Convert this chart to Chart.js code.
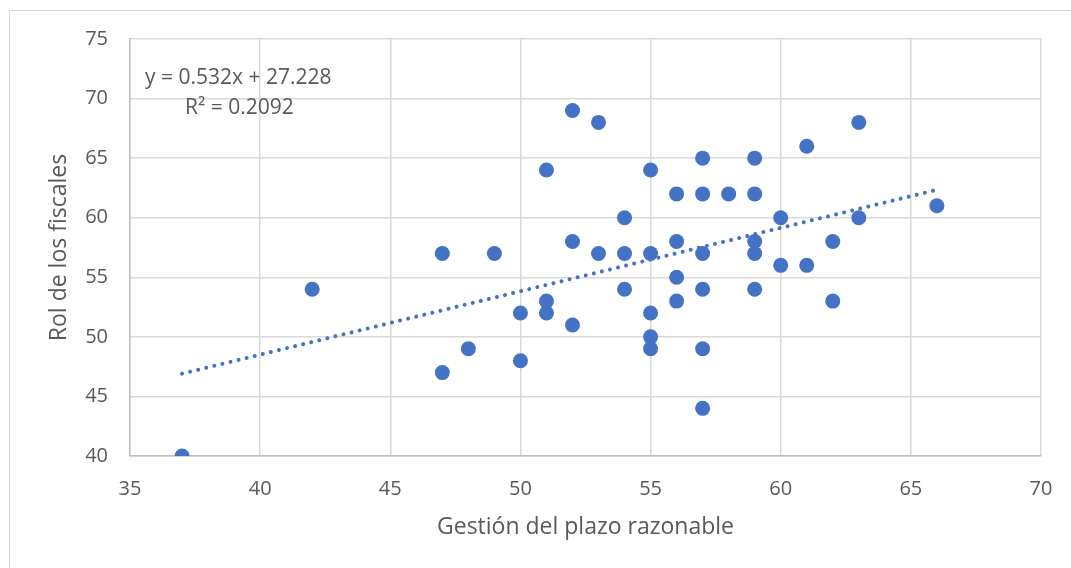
<!DOCTYPE html>
<html>
<head>
<meta charset="utf-8">
<script src="https://cdn.jsdelivr.net/npm/chart.js@4"></script>
<style>
  html, body { margin: 0; padding: 0; background: #fff; }
  #wrap { position: relative; width: 1071px; height: 568px; overflow: hidden; }
  #frame { position: absolute; left: 9px; top: 10px; width: 1100px; height: 600px; border: 1px solid #d9d9d9; box-sizing: border-box; }
  canvas { position: absolute; left: 0; top: 0; }
</style>
</head>
<body>
<div id="wrap">
  <div id="frame"></div>
  <canvas id="c" width="1071" height="568"></canvas>
</div>
<script>
const gestion = [37, 42, 47, 47, 48, 49, 50, 50, 51, 51, 51, 52, 52, 52, 53, 53, 54, 54, 54, 55, 55, 55, 55, 55, 56, 56, 56, 56, 57, 57, 57, 57, 57, 57, 58, 59, 59, 59, 59, 59, 60, 60, 61, 61, 62, 62, 63, 63, 66];
const rol     = [40, 54, 57, 47, 49, 57, 52, 48, 64, 53, 52, 69, 58, 51, 68, 57, 60, 57, 54, 64, 57, 52, 50, 49, 62, 58, 55, 53, 65, 62, 57, 54, 49, 44, 62, 65, 62, 58, 57, 54, 60, 56, 66, 56, 58, 53, 68, 60, 61];
const trendSlope = 0.532;
const trendIntercept = 27.228;
const trendRange = [37, 66];
const equationText = 'y = 0.532x + 27.228';
const r2Text = 'R² = 0.2092';
const xTicks = [35, 40, 45, 50, 55, 60, 65, 70];
const yTicks = [40, 45, 50, 55, 60, 65, 70, 75];
const xTitle = 'Gestión del plazo razonable';
const yTitle = 'Rol de los fiscales';

const points = gestion.map((x, i) => ({ x: x, y: rol[i] }));
const trend = trendRange.map(x => ({ x: x, y: trendSlope * x + trendIntercept }));

const FONT = "'Open Sans', 'Liberation Sans', sans-serif";
const TXT = '#595959';

const eqPlugin = {
  id: 'eq',
  afterDatasetsDraw(chart) {
    const ctx = chart.ctx;
    ctx.save();
    ctx.font = "21px " + FONT;
    ctx.fillStyle = TXT;
    ctx.textBaseline = 'middle';
    ctx.textAlign = 'left';
    ctx.fillText(equationText, 145, 78);
    ctx.fillText(r2Text, 185, 108);
    ctx.restore();
  }
};

new Chart(document.getElementById('c'), {
  type: 'scatter',
  data: {
    datasets: [
      {
        label: 'Trend',
        type: 'line',
        data: trend,
        borderColor: '#4472C4',
        borderWidth: 4,
        borderDash: [0.01, 8.3],
        borderCapStyle: 'round',
        pointRadius: 0,
        fill: false,
        order: 2
      },
      {
        label: 'Data',
        data: points,
        backgroundColor: '#4472C4',
        borderColor: '#4472C4',
        borderWidth: 0,
        pointRadius: 7.5,
        pointHoverRadius: 7.5,
        order: 1
      }
    ]
  },
  plugins: [eqPlugin],
  options: {
    responsive: false,
    animation: false,
    events: [],
    layout: { padding: { top: 39, right: 30, left: 10, bottom: 0 } },
    plugins: { legend: { display: false }, tooltip: { enabled: false } },
    scales: {
      x: {
        type: 'linear',
        min: 35, max: 70,
        afterBuildTicks(scale) { scale.ticks = xTicks.map(v => ({ value: v })); },
        afterFit(scale) { scale.height = 112; scale.paddingLeft = 0; scale.paddingRight = 0; },
        grid: { color: '#d9d9d9', lineWidth: 1.5, drawTicks: false },
        border: { color: '#bfbfbf', width: 1.5 },
        ticks: { color: TXT, font: { family: FONT, size: 20 }, padding: 21, maxRotation: 0 },
        title: { display: true, text: xTitle, color: TXT, font: { family: FONT, size: 23 }, padding: { top: 0, bottom: 27 } }
      },
      y: {
        type: 'linear',
        min: 40, max: 75,
        afterBuildTicks(scale) { scale.ticks = yTicks.map(v => ({ value: v })); },
        afterFit(scale) { scale.width = 120; },
        grid: { color: '#d9d9d9', lineWidth: 1.5, drawTicks: false },
        border: { color: '#bfbfbf', width: 1.5 },
        ticks: { color: TXT, font: { family: FONT, size: 20 }, padding: 22 },
        title: { display: true, text: yTitle, color: TXT, font: { family: FONT, size: 23 }, padding: { top: 36, bottom: 0 } }
      }
    }
  }
});
</script>
</body>
</html>
